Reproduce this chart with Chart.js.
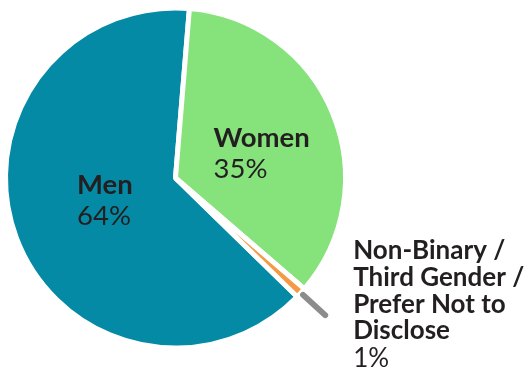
<!DOCTYPE html>
<html lang="en">
  <head>
    <meta charset="UTF-8" />
    <title>Gender split</title>
    <script src="https://cdn.jsdelivr.net/npm/chart.js"></script>
    <style>
      html, body { margin: 0; padding: 0; background: #fff; }
      .chart-box { position: relative; width: 531px; height: 388px; }
    </style>
  </head>
  <body>
    <div class="chart-box">
      <canvas id="genderChart"></canvas>
    </div>

    <script>
      // slice names (multi-line names are arrays of lines) and their shares in %
      const categories = [
        "Men",
        "Women",
        ["Non-Binary /", "Third Gender /", "Prefer Not to", "Disclose"],
      ];
      const shares = [64, 35, 1];
      const sliceColors = ["#058aa5", "#86e27a", "#f49a44"];

      const textColor = "#231f20";

      // draws the names and percentages, inside the big slices and with a
      // leader line outside for the thin one
      const sliceLabels = {
        id: "sliceLabels",
        afterDatasetsDraw(chart, args, opts) {
          const ctx = chart.ctx;
          const arcs = chart.getDatasetMeta(0).data;
          const labels = chart.data.labels;
          const values = chart.data.datasets[0].data;

          ctx.save();
          ctx.fillStyle = textColor;
          ctx.textBaseline = "alphabetic";
          ctx.textAlign = "left";

          arcs.forEach((arc, i) => {
            const name = [].concat(labels[i]);
            const pct = values[i] + "%";
            const mid = (arc.startAngle + arc.endAngle) / 2;

            if (opts.inside[i]) {
              const nudge = opts.inside[i];
              const pos = arc.tooltipPosition();
              const ax = pos.x + nudge[0];
              const ay = pos.y + nudge[1];

              ctx.font = "bold 27.5px Lato";
              const w1 = Math.max(...name.map((t) => ctx.measureText(t).width));
              ctx.font = "27.5px Lato";
              const w2 = ctx.measureText(pct).width;
              const left = ax - Math.max(w1, w2) / 2;

              ctx.font = "bold 27.5px Lato";
              ctx.fillText(name[0], left, ay - 6);
              ctx.font = "27.5px Lato";
              ctx.fillText(pct, left, ay + 25);
            } else {
              // leader line going out of the slice
              const r0 = arc.outerRadius + 3;
              const r1 = arc.outerRadius + 33;
              const cos = Math.cos(mid), sin = Math.sin(mid);
              ctx.beginPath();
              ctx.moveTo(arc.x + cos * r0, arc.y + sin * r0);
              ctx.lineTo(arc.x + cos * r1, arc.y + sin * r1);
              ctx.strokeStyle = "#8c8c8c";
              ctx.lineWidth = 6;
              ctx.lineCap = "round";
              ctx.stroke();

              const ex = arc.x + cos * r1;
              const ey = arc.y + sin * r1;
              const left = ex + 28;
              let y = ey - 56;
              ctx.font = "bold 26px Lato";
              name.forEach((t) => {
                ctx.fillText(t, left, y);
                y += 26.7;
              });
              ctx.font = "26px Lato";
              ctx.fillText(pct, left, y + 1);
            }
          });
          ctx.restore();
        },
      };

      const ctx = document.getElementById("genderChart").getContext("2d");
      new Chart(ctx, {
        type: "pie",
        data: {
          labels: categories,
          datasets: [
            {
              data: shares,
              backgroundColor: sliceColors,
              borderColor: "#ffffff",
              borderWidth: 5,
              hoverOffset: 0,
            },
          ],
        },
        options: {
          responsive: true,
          maintainAspectRatio: false,
          animation: false,
          events: [],
          rotation: 134.3,
          layout: {
            padding: { left: 3, top: 5.5, right: 183, bottom: 37.5 },
          },
          plugins: {
            legend: { display: false },
            tooltip: { enabled: false },
            sliceLabels: {
              // offsets from the slice centroid, null = label outside
              inside: [[9, -8], [7.5, 7.5], null],
            },
          },
        },
        plugins: [sliceLabels],
      });
    </script>
  </body>
</html>
